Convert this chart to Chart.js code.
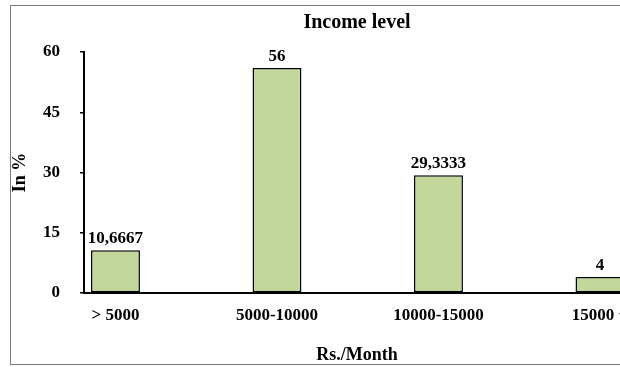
<!DOCTYPE html>
<html>
<head>
<meta charset="utf-8">
<script src="https://cdn.jsdelivr.net/npm/chart.js@4/dist/chart.umd.min.js"></script>
<style>
  html, body { margin: 0; padding: 0; background: #fff; }
  #view { position: absolute; left: 0; top: 0; width: 620px; height: 367px; overflow: hidden; }
  #frame { position: absolute; left: 10px; top: 5px; width: 693px; height: 360px;
           border-top: 1px solid #7a7a7a; border-left: 1px solid #7a7a7a; border-bottom: 1px solid #7a7a7a;
           box-sizing: border-box; }
  canvas { position: absolute; left: 0; top: 0; display: block; }
</style>
</head>
<body>
<div id="view">
  <div id="frame"><canvas id="c" width="692" height="358"></canvas></div>
</div>
<script>
// Share of respondents by monthly income bracket
const categories = ['> 5000', '5000-10000', '10000-15000', '15000 +'];
const percentages = [10.6667, 56, 29.3333, 4];
const yTicks = [0, 15, 30, 45, 60];

const serif = "'Liberation Serif', 'Times New Roman', serif";

// Writes each bar's value above it, with a decimal comma
const valueLabels = {
  id: 'valueLabels',
  afterDatasetsDraw(chart) {
    const ctx = chart.ctx;
    const meta = chart.getDatasetMeta(0);
    ctx.save();
    ctx.font = 'bold 17px ' + serif;
    ctx.fillStyle = '#000';
    ctx.textAlign = 'center';
    ctx.textBaseline = 'alphabetic';
    meta.data.forEach((bar, i) => {
      const txt = String(percentages[i]).replace('.', ',');
      ctx.fillText(txt, bar.x, bar.y - 7);
    });
    ctx.restore();
  }
};

new Chart(document.getElementById('c'), {
  type: 'bar',
  data: {
    datasets: [{
      data: percentages.map((v, i) => ({ x: i, y: v })),
      backgroundColor: '#c4d79b',
      borderColor: '#000',
      borderWidth: 1.5,
      borderSkipped: false,
      categoryPercentage: 1,
      barPercentage: 0.303
    }]
  },
  options: {
    responsive: false,
    animation: false,
    devicePixelRatio: 1,
    layout: { padding: { left: 0, right: 73, top: 0, bottom: 0 } },
    plugins: {
      legend: { display: false },
      tooltip: { enabled: false },
      title: {
        display: true,
        fullSize: false,
        text: 'Income level',
        color: '#000',
        font: { family: serif, size: 20, weight: 'bold', lineHeight: 1.2 },
        padding: { top: 5, bottom: 17 }
      }
    },
    scales: {
      x: {
        type: 'linear',
        offset: false,
        min: -0.195,
        max: 3.186,
        afterBuildTicks(scale) {
          scale.ticks = categories.map((c, i) => ({ value: i }));
        },
        afterFit(scale) { scale.height = 71; },
        ticks: {
          autoSkip: false,
          maxRotation: 0,
          padding: 12,
          color: '#000',
          font: { family: serif, size: 17, weight: 'bold' },
          callback: (v) => categories[v] ?? ''
        },
        grid: { display: false, drawTicks: false, tickLength: 0, offset: false },
        border: { display: true, color: '#000', width: 2 },
        title: {
          display: true,
          text: 'Rs./Month',
          color: '#000',
          font: { family: serif, size: 18, weight: 'bold', lineHeight: 1 },
          padding: { top: 0, bottom: 0 }
        }
      },
      y: {
        min: 0,
        max: 60,
        afterBuildTicks(scale) {
          scale.ticks = yTicks.map(v => ({ value: v }));
        },
        afterFit(scale) { scale.width = 73; },
        ticks: {
          padding: 20,
          color: '#000',
          font: { family: serif, size: 17, weight: 'bold' }
        },
        grid: {
          display: true,
          drawOnChartArea: false,
          drawTicks: true,
          tickLength: 4,
          tickColor: '#000',
          lineWidth: 1.5
        },
        border: { display: true, color: '#000', width: 2 },
        title: {
          display: true,
          text: 'In %',
          color: '#000',
          font: { family: serif, size: 18, weight: 'bold', lineHeight: 1 },
          padding: { top: 0, bottom: 0 }
        }
      }
    }
  },
  plugins: [valueLabels]
});
</script>
</body>
</html>
